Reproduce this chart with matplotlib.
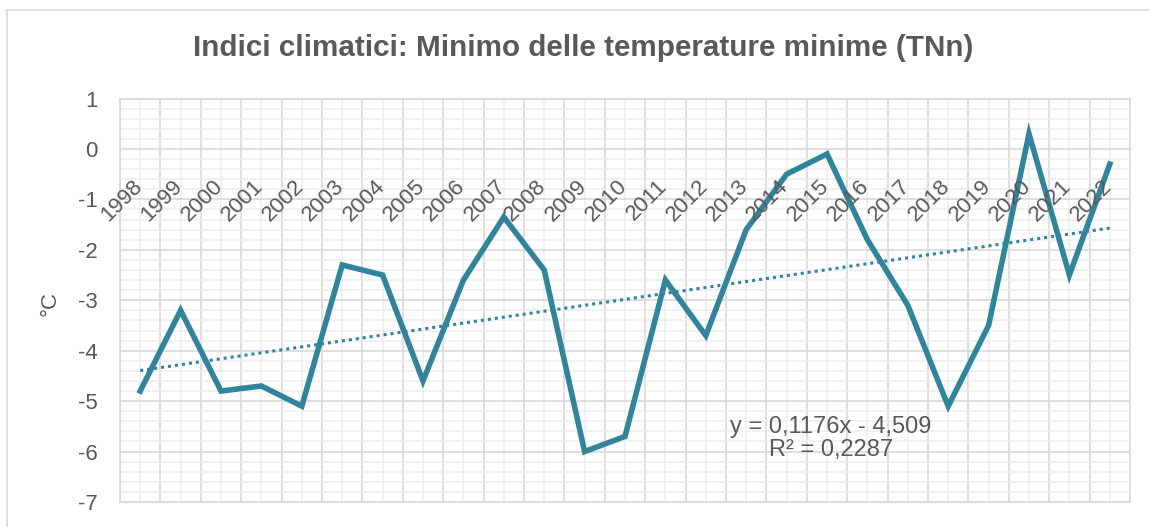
import matplotlib
matplotlib.use("Agg")
import matplotlib.pyplot as plt
from matplotlib.lines import Line2D
import numpy as np

plt.rcParams["font.family"] = ["Liberation Sans", "DejaVu Sans"]
plt.rcParams["axes.unicode_minus"] = False

years = list(range(1998, 2023))
tnn = [-4.8, -3.2, -4.8, -4.7, -5.1, -2.3, -2.5, -4.6, -2.6, -1.35,
       -2.4, -6.0, -5.7, -2.6, -3.7, -1.6, -0.5, -0.1, -1.8, -3.1,
       -5.1, -3.5, 0.3, -2.5, -0.3]
title = "Indici climatici: Minimo delle temperature minime (TNn)"
eq_text = "y = 0,1176x - 4,509\nR² = 0,2287"

line_col = "#31849B"
text_col = "#595959"
grid_major = "#D9D9D9"
grid_minor = "#EDEDED"

W, H = 1149, 527
fig = plt.figure(figsize=(W / 100, H / 100), dpi=100)
ax = fig.add_axes([120 / W, 1 - 502 / H, (1130 - 120) / W, (502 - 98.5) / H])

x = np.arange(1, len(years) + 1)
ax.set_xlim(0.5, len(years) + 0.5)
ax.set_ylim(-7, 1)

# grid
ax.set_xticks(np.arange(0.5, len(years) + 1, 1.0))
ax.set_xticks(x, minor=True)
ax.set_yticks(np.arange(-7, 2, 1))
ax.set_yticks(np.arange(-7, 1.01, 0.2), minor=True)
ax.grid(which="minor", color=grid_minor, lw=1.1, zorder=0)
ax.grid(which="major", color=grid_major, lw=1.2, zorder=0)
ax.set_axisbelow(True)
ax.tick_params(which="both", length=0)
ax.set_xticklabels([])
ax.tick_params(axis="y", labelsize=16, labelcolor=text_col, pad=16)
for s in ax.spines.values():
    s.set_color(grid_major)
    s.set_linewidth(1.2)

# data + trend
ax.plot(x, tnn, color=line_col, lw=4.0, solid_joinstyle="miter", zorder=3)
coef = np.polyfit(x, tnn, 1)
ax.plot(x, np.polyval(coef, x), color=line_col, lw=2.2,
        linestyle=(0, (1, 1.3)), zorder=2)

# category labels along the zero line
for xi, yr in zip(x, years):
    ax.text(xi + 0.07, -0.76, str(yr), rotation=45, ha="right", va="baseline",
            rotation_mode="anchor", fontsize=16, color=text_col, zorder=4)

ax.text(18.1, -5.74, eq_text, ha="center", va="center", fontsize=17,
        color=text_col, linespacing=1.1, zorder=4)

fig.text(583 / W, 1 - 48 / H, title, ha="center", va="center",
         fontsize=21.3, fontweight="bold", color=text_col)
fig.text(50 / W, 1 - 303 / H, "°C", rotation=90, ha="center", va="center",
         fontsize=16, color=text_col)

# chart border (cropped on right and bottom)
fig.add_artist(Line2D([7 / W, 1], [1 - 10 / H, 1 - 10 / H], color=grid_major,
                      lw=1.2, transform=fig.transFigure))
fig.add_artist(Line2D([7 / W, 7 / W], [0, 1 - 10 / H], color=grid_major,
                      lw=1.2, transform=fig.transFigure))

fig.savefig("out.png", dpi=100)
